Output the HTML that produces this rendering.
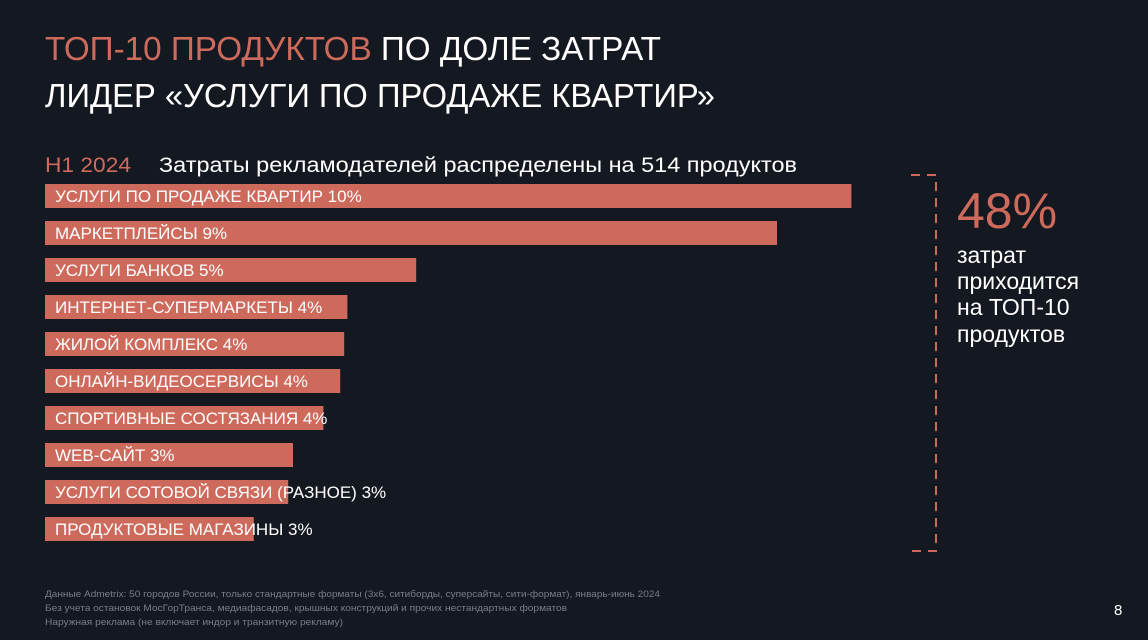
<!DOCTYPE html>
<html><head><meta charset="utf-8"><style>
html,body{margin:0;padding:0;background:#141820;}
svg{display:block;font-family:"Liberation Sans",sans-serif;}
</style></head><body>
<svg id="chart" width="1148" height="640" viewBox="0 0 1148 640" xmlns="http://www.w3.org/2000/svg">
<rect width="1148" height="640" fill="#141820"/>
<text x="45" y="60" font-size="33" textLength="616" lengthAdjust="spacingAndGlyphs"><tspan fill="#cd6a5c">ТОП-10 ПРОДУКТОВ</tspan><tspan fill="#ffffff"> ПО ДОЛЕ ЗАТРАТ</tspan></text>
<text x="45" y="107" font-size="33" fill="#ffffff" textLength="670" lengthAdjust="spacingAndGlyphs">ЛИДЕР «УСЛУГИ ПО ПРОДАЖЕ КВАРТИР»</text>
<text x="45" y="172" font-size="21" fill="#cd6a5c" textLength="86" lengthAdjust="spacingAndGlyphs">H1 2024</text>
<text x="159" y="172" font-size="21" fill="#ffffff" textLength="638" lengthAdjust="spacingAndGlyphs">Затраты рекламодателей распределены на 514 продуктов</text>
<g id="bars"></g>
<path d="M911 175 H936 V551 H911" fill="none" stroke="#cd6a5c" stroke-width="2" stroke-dasharray="9,7"/>
<text x="957" y="228" font-size="50" fill="#cd6a5c">48%</text>
<g font-size="23" fill="#ffffff">
<text x="957" y="263">затрат</text>
<text x="957" y="289">приходится</text>
<text x="957" y="315">на ТОП-10</text>
<text x="957" y="342">продуктов</text>
</g>
<g font-size="9.5" fill="#7a7d85">
<text x="45" y="597" textLength="615" lengthAdjust="spacingAndGlyphs">Данные Admetrix: 50 городов России, только стандартные форматы (3х6, ситиборды, суперсайты, сити-формат), январь-июнь 2024</text>
<text x="45" y="611" textLength="522" lengthAdjust="spacingAndGlyphs">Без учета остановок МосГорТранса, медиафасадов, крышных конструкций и прочих нестандартных форматов</text>
<text x="45" y="625" textLength="298" lengthAdjust="spacingAndGlyphs">Наружная реклама (не включает индор и транзитную рекламу)</text>
</g>
<text x="1114" y="615" font-size="15" fill="#ffffff">8</text>
</svg>
<script>
const categories = ["УСЛУГИ ПО ПРОДАЖЕ КВАРТИР","МАРКЕТПЛЕЙСЫ","УСЛУГИ БАНКОВ","ИНТЕРНЕТ-СУПЕРМАРКЕТЫ","ЖИЛОЙ КОМПЛЕКС","ОНЛАЙН-ВИДЕОСЕРВИСЫ","СПОРТИВНЫЕ СОСТЯЗАНИЯ","WEB-САЙТ","УСЛУГИ СОТОВОЙ СВЯЗИ (РАЗНОЕ)","ПРОДУКТОВЫЕ МАГАЗИНЫ"];
const values = [10.08, 9.15, 4.64, 3.78, 3.74, 3.69, 3.48, 3.10, 3.04, 2.61];
const valueLabels = ["10%","9%","5%","4%","4%","4%","4%","3%","3%","3%"];
const X0 = 45, PX_PER_PCT = 80, Y0 = 184, STEP = 37, BH = 24;
function xScale(v){ return v * PX_PER_PCT; }
function yScale(i){ return Y0 + i * STEP; }
const g = document.getElementById('bars');
const NS = "http://www.w3.org/2000/svg";
categories.forEach((c, i) => {
  const r = document.createElementNS(NS, 'rect');
  r.setAttribute('x', X0);
  r.setAttribute('y', yScale(i));
  r.setAttribute('width', xScale(values[i]));
  r.setAttribute('height', BH);
  r.setAttribute('fill', '#cd6a5c');
  
  
  g.appendChild(r);
  const t = document.createElementNS(NS, 'text');
  t.setAttribute('x', X0 + 10);
  t.setAttribute('y', yScale(i) + BH / 2 + 6);
  t.setAttribute('font-size', '17');
  t.setAttribute('fill', '#ffffff');
  t.textContent = c + ' ' + valueLabels[i];
  
  
  g.appendChild(t);
});
</script>
</body></html>
